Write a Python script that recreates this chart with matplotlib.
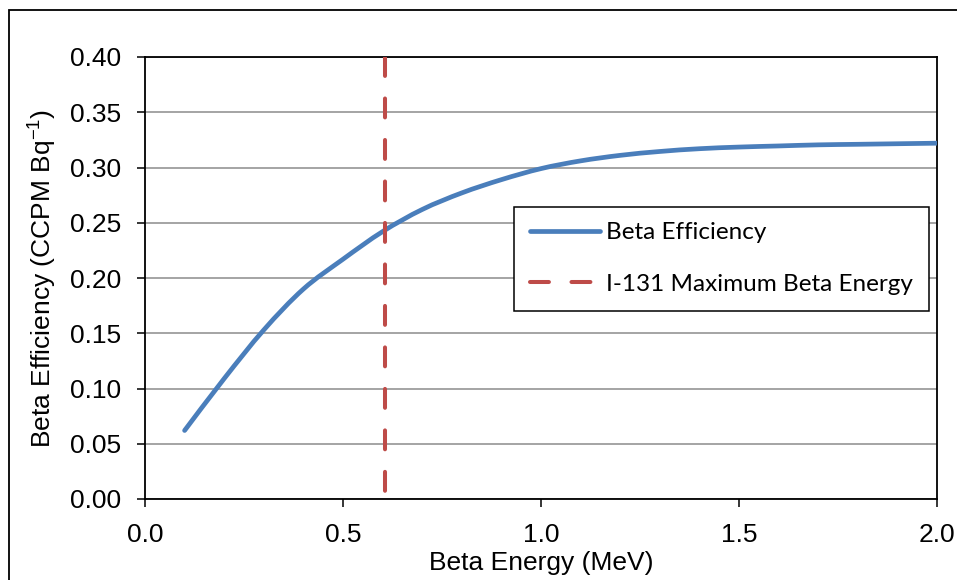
import matplotlib
matplotlib.use("Agg")
import matplotlib.pyplot as plt
import numpy as np
from matplotlib.patches import Rectangle, PathPatch
from matplotlib.path import Path
from matplotlib.lines import Line2D

plt.rcParams['font.family'] = ['Liberation Sans', 'DejaVu Sans']
plt.rcParams['mathtext.default'] = 'regular'

energy_mev = [0.10, 0.20, 0.30, 0.40, 0.50, 0.60, 0.70, 0.80, 0.90, 1.00,
              1.10, 1.20, 1.30, 1.40, 1.50, 1.60, 1.70, 1.80, 1.90, 2.00]
efficiency = [0.062, 0.109, 0.153, 0.190, 0.217, 0.242, 0.262, 0.277, 0.289, 0.299,
              0.306, 0.311, 0.3145, 0.317, 0.3185, 0.3195, 0.3205, 0.321, 0.3215, 0.322]
i131_energy = [0.606, 0.606]
i131_y = [0.40, 0.0]

x_ticks = [0.0, 0.5, 1.0, 1.5, 2.0]
x_tick_labels = ['0.0', '0.5', '1.0', '1.5', '2.0']
y_ticks = [0.00, 0.05, 0.10, 0.15, 0.20, 0.25, 0.30, 0.35, 0.40]
y_tick_labels = ['0.00', '0.05', '0.10', '0.15', '0.20', '0.25', '0.30', '0.35', '0.40']

BLUE = '#4A7EBB'
RED = '#BE4B48'

fig = plt.figure(figsize=(9.57, 5.8), dpi=100)
ax = fig.add_axes([145/957, 1 - 499/580, (937-145)/957, (499-57)/580])

# smoothed line (Excel-style Catmull-Rom Bezier through the data points)
pts = np.column_stack([energy_mev, efficiency])
verts = [pts[0]]
codes = [Path.MOVETO]
n = len(pts)
for i in range(n - 1):
    p0 = pts[i - 1] if i > 0 else pts[i]
    p1 = pts[i]
    p2 = pts[i + 1]
    p3 = pts[i + 2] if i + 2 < n else pts[i + 1]
    c1 = p1 + (p2 - p0) / 6.0
    c2 = p2 - (p3 - p1) / 6.0
    verts += [c1, c2, p2]
    codes += [Path.CURVE4] * 3
curve = PathPatch(Path(verts, codes), fill=False, edgecolor=BLUE, lw=3.4,
                  capstyle='round', joinstyle='round', zorder=3)
ax.add_patch(curve)

ax.plot(i131_energy, i131_y, color=RED, lw=2.9, dashes=(4.7, 5.6),
        dash_capstyle='round', zorder=3)

ax.set_xlim(0, 2.0)
ax.set_ylim(0, 0.40)
ax.set_xticks(x_ticks)
ax.set_xticklabels(x_tick_labels)
ax.set_yticks(y_ticks)
ax.set_yticklabels(y_tick_labels)
ax.grid(axis='y', color='#8C8C8C', lw=1.1, zorder=0)
ax.set_axisbelow(True)
for s in ax.spines.values():
    s.set_color('black')
    s.set_linewidth(1.3)
ax.tick_params(axis='both', direction='out', length=6, width=1.1, labelsize=19,
               colors='black')
ax.tick_params(axis='x', pad=11)
ax.tick_params(axis='y', pad=11)

ax.set_xlabel('Beta Energy (MeV)', fontsize=19, labelpad=3)
ax.set_ylabel('Beta Efficiency (CCPM Bq$^{-1}$)', fontsize=19, labelpad=8)

handles = [Line2D([], [], color=BLUE, lw=3.4, solid_capstyle='round'),
           Line2D([], [], color=RED, lw=2.9, dashes=(4.7, 5.6), dash_capstyle='round')]
labels = ['Beta Efficiency', 'I-131 Maximum Beta Energy']
leg = ax.legend(handles, labels, loc='upper left',
                bbox_to_anchor=((514-145)/792, (499-206.5)/442),
                prop={'family': ['Lato', 'DejaVu Sans'], 'size': 17.5},
                frameon=True, fancybox=False, edgecolor='black', framealpha=1,
                borderpad=0.65, labelspacing=1.25, handlelength=2.9, handletextpad=0.25,
                borderaxespad=0)
leg.get_frame().set_linewidth(1.1)

fig.patches.append(Rectangle((9/957, -0.05), 1.1, 1 - 10/580 + 0.05,
                             transform=fig.transFigure, fill=False,
                             edgecolor='black', lw=1.3, zorder=10))

fig.savefig('out.png', dpi=100)
